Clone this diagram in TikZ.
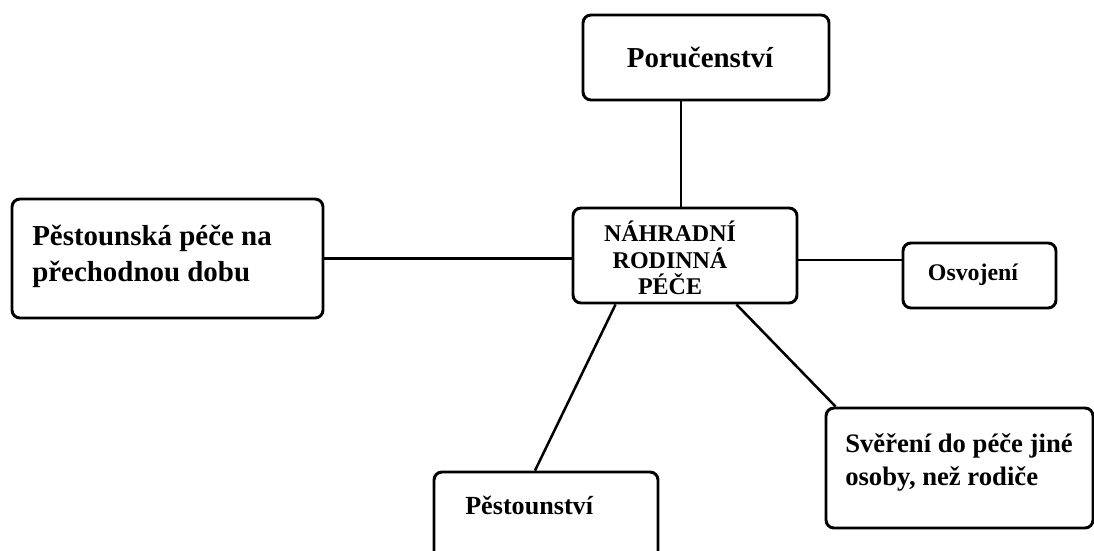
\documentclass[tikz,border=0pt]{standalone}
\usepackage{fontspec}
\setmainfont{Liberation Serif}
\usetikzlibrary{positioning}
\def\boxline{2.2pt}
\tikzset{
  box/.style={draw, rounded corners=6pt, line width=\boxline, inner sep=0pt},
  txt/.style={inner sep=0pt, align=left},
  link/.style={line width=1.9pt}
}

\begin{document}
\begin{tikzpicture}[x=0.75pt, y=-0.75pt]

\useasboundingbox (0,0) rectangle (1094,550);
\clip (0,0) rectangle (1094,550);

% boxes
\node[box, minimum width=184.5pt, minimum height=63.75pt] (por) at (706,57.5) {};
\node[box, minimum width=168pt, minimum height=71.25pt] (hub) at (685,255.5) {};
\node[box, minimum width=233.25pt, minimum height=89.25pt] (pstp) at (167.5,258.5) {};
\node[box, minimum width=114.75pt, minimum height=48.75pt] (osv) at (979.5,275.5) {};
\node[box, minimum width=200.25pt, minimum height=90pt] (sve) at (959.5,468) {};
\node[box, minimum width=168pt, minimum height=66pt] (pst) at (546,516) {};

% labels
\node[txt, font=\bfseries\fontsize{21.7}{26}\selectfont] (porlabel) at (700,57) {Poručenství};
\node[txt, align=center, font=\bfseries\fontsize{18}{20}\selectfont] (hublabel) at (670,258)
  {NÁHRADNÍ\\RODINNÁ\\PÉČE};
\node[txt, anchor=west, font=\bfseries\fontsize{21.7}{27}\selectfont] (pstplabel) at (32,256)
  {Pěstounská péče na\\přechodnou dobu};
\node[txt, font=\bfseries\fontsize{17.9}{20}\selectfont] (osvlabel) at (973,275) {Osvojení};
\node[txt, anchor=west, font=\bfseries\fontsize{20}{24.75}\selectfont] (svelabel) at (845,462)
  {Svěření do péče jiné\\osoby, než rodiče};
\node[txt, anchor=west, font=\bfseries\fontsize{19.6}{22}\selectfont] (pstlabel) at (465,505) {Pěstounství};

% links to the hub
\draw[link] ([xshift=-3pt]hub.north) -- ([xshift=-3pt]hub.north |- por.south);
\draw[link] (pstp.east) -- (pstp.east -| hub.west);
\draw[link] ([yshift=-3.4pt]hub.east) -- ([yshift=-3.4pt]hub.east -| osv.west);
\draw[link] ([xshift=33pt]hub.south west) -- ([xshift=-8.25pt]pst.north);
\draw[link] ([xshift=-46.5pt]hub.south east) -- ([xshift=8.25pt]sve.north west);

\end{tikzpicture}
\end{document}
